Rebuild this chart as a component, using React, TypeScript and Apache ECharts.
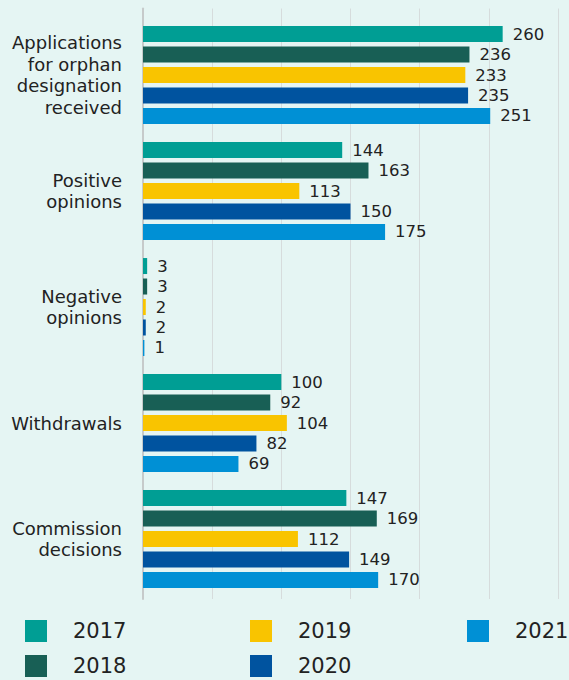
import React, { useEffect, useRef } from "react";
import * as echarts from "echarts";

const categories = [
  "Applications\nfor orphan\ndesignation\nreceived",
  "Positive\nopinions",
  "Negative\nopinions",
  "Withdrawals",
  "Commission\ndecisions",
];
const years = ["2017", "2018", "2019", "2020", "2021"];
const colors = ["#009e94", "#185f55", "#f9c400", "#00539f", "#0090d5"];
const v2017 = [260, 144, 3, 100, 147];
const v2018 = [236, 163, 3, 92, 169];
const v2019 = [233, 113, 2, 104, 112];
const v2020 = [235, 150, 2, 82, 149];
const v2021 = [251, 175, 1, 69, 170];
const seriesValues = [v2017, v2018, v2019, v2020, v2021];

const FONT = "DejaVu Sans";

export default function App() {
  const ref = useRef<HTMLDivElement>(null);
  useEffect(() => {
    if (!ref.current) return;
    const chart = echarts.init(ref.current, null, { renderer: "svg" });
    // legend layout: column-major, 3 columns x 2 rows
    const colLefts = [25, 250, 467];
    const rowTops = [620, 655];
    chart.setOption({
      animation: false,
      backgroundColor: "#e5f5f3",
      textStyle: { fontFamily: FONT },
      grid: [
        { left: 143, right: 11, top: 17, height: 580, containLabel: false },
        { left: 143, right: 11, top: 8.5, height: 590.5, containLabel: false },
      ],
      legend: years.map((y, i) => ({
        show: true,
        orient: "horizontal",
        left: colLefts[Math.floor(i / 2)],
        top: rowTops[i % 2],
        padding: 0,
        itemWidth: 22,
        itemHeight: 22,
        icon: "rect",
        data: [y],
        textStyle: {
          fontFamily: FONT,
          fontSize: 21,
          color: "#222",
          padding: [0, 0, 0, 21],
        },
      })),
      xAxis: [
        {
          type: "value",
          gridIndex: 0,
          min: 0,
          max: 300,
          interval: 50,
          axisLabel: { show: false },
          axisTick: { show: false },
          axisLine: { show: false },
          splitLine: { show: false },
        },
        {
          type: "value",
          gridIndex: 1,
          min: 0,
          max: 300,
          interval: 50,
          axisLabel: { show: false },
          axisTick: { show: false },
          axisLine: { show: false },
          splitLine: { show: true, lineStyle: { color: "#d6dcdc", width: 1 } },
        },
      ],
      yAxis: [
        {
          type: "category",
          gridIndex: 0,
          inverse: true,
          data: categories,
          axisTick: { show: false },
          axisLine: { show: false },
          axisLabel: {
            margin: 21,
            fontFamily: FONT,
            fontSize: 18,
            lineHeight: 21.5,
            color: "#222",
            align: "right",
          },
        },
        {
          type: "value",
          gridIndex: 1,
          min: 0,
          max: 1,
          axisLabel: { show: false },
          axisTick: { show: false },
          splitLine: { show: false },
          axisLine: { show: true, lineStyle: { color: "#c6caca", width: 2 } },
        },
      ],
      series: years.map((y, i) => ({
        name: y,
        type: "bar",
        xAxisIndex: 0,
        yAxisIndex: 0,
        data: seriesValues[i],
        barWidth: 16,
        barGap: "28%",
        itemStyle: { color: colors[i] },
        label: {
          show: true,
          position: "right",
          distance: 10,
          fontFamily: FONT,
          fontSize: 16.5,
          color: "#222",
        },
      })),
    });
    return () => chart.dispose();
  }, []);
  return (
    <div
      ref={ref}
      style={{ position: "fixed", left: 0, top: 0, width: 569, height: 680 }}
    />
  );
}
